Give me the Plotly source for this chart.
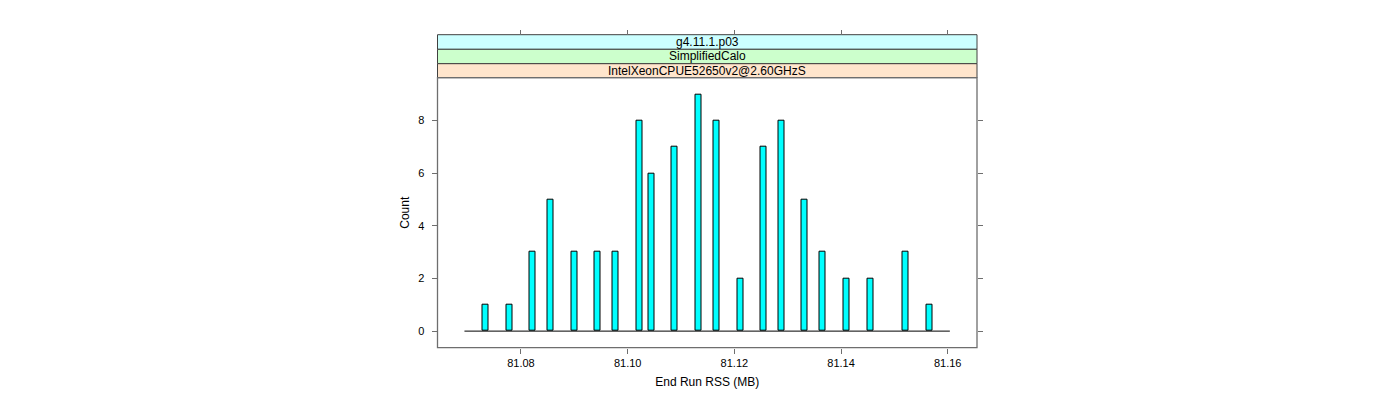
import plotly.graph_objects as go

# ---- data ----
rss_values = [81.0733, 81.0778, 81.0822, 81.0855, 81.0900, 81.0944, 81.0977,
              81.1022, 81.1044, 81.1088, 81.1133, 81.1166, 81.1211, 81.1255,
              81.1288, 81.1332, 81.1366, 81.1410, 81.1455, 81.1521, 81.1566]
counts = [1, 1, 3, 5, 3, 3, 3, 8, 6, 7, 9, 8, 2, 7, 8, 5, 3, 2, 2, 3, 1]
bin_width = 0.00112
hist_extent = [81.0694, 81.1604]          # first / last histogram break
x_ticks = [81.08, 81.10, 81.12, 81.14, 81.16]
x_tick_labels = ["81.08", "81.10", "81.12", "81.14", "81.16"]
y_ticks = [0, 2, 4, 6, 8]
y_tick_labels = ["0", "2", "4", "6", "8"]
strip_labels = ["g4.11.1.p03", "SimplifiedCalo", "IntelXeonCPUE52650v2@2.60GHzS"]
strip_colors = ["#CCFFFF", "#CCFFCC", "#FFE5CC"]
x_range = [81.06435, 81.16549]
y_range = [-0.63, 9.63]

W, H = 1400, 400
OFF = 8  # page body margin offset
FONT = "Liberation Sans, Arial, Helvetica, sans-serif"
frame_col = "#6e6e6e"

# panel geometry (pixels in the screenshot)
px_left, px_right = 437.5 - OFF, 977.0 - OFF
px_panel_top, px_panel_bottom = 77.7 - OFF, 347.7 - OFF
strip_edges_px = [p - OFF for p in (34.7, 49.3, 63.7, 77.7)]

def fx(p):
    return p / W

def fy(p):
    return 1 - p / H

fig = go.Figure()

fig.add_trace(go.Scatter(
    x=hist_extent, y=[0, 0], mode="lines",
    line=dict(color="black", width=1), hoverinfo="skip", showlegend=False))

fig.add_trace(go.Bar(
    x=rss_values, y=counts, width=bin_width,
    marker=dict(color="#00FFFF", line=dict(color="black", width=1)),
    showlegend=False))

# invisible trace to hold the top tick axis
fig.add_trace(go.Scatter(x=hist_extent, y=[0, 0], xaxis="x2", mode="lines",
                         line=dict(width=0), opacity=0, hoverinfo="skip",
                         showlegend=False))

shapes = []
for i, (lab, col) in enumerate(zip(strip_labels, strip_colors)):
    y0 = fy(strip_edges_px[i + 1])
    y1 = fy(strip_edges_px[i])
    shapes.append(dict(type="rect", xref="paper", yref="paper",
                       x0=fx(px_left), x1=fx(px_right), y0=y0, y1=y1,
                       fillcolor=col, line=dict(color="#404040", width=1),
                       layer="below"))
annotations = []
for i, lab in enumerate(strip_labels):
    yc = fy((strip_edges_px[i] + strip_edges_px[i + 1]) / 2)
    annotations.append(dict(text=lab, xref="paper", yref="paper",
                            x=(fx(px_left) + fx(px_right)) / 2, y=yc,
                            xanchor="center", yanchor="middle", showarrow=False,
                            font=dict(family=FONT, size=12, color="black")))
shapes.append(dict(type="rect", xref="paper", yref="paper",
                   x0=fx(px_left), x1=fx(px_right),
                   y0=fy(px_panel_bottom), y1=fy(px_panel_top),
                   line=dict(color=frame_col, width=1.3), layer="above"))

axis_common = dict(
    showgrid=False, zeroline=False, ticks="outside", ticklen=5,
    tickwidth=1, tickcolor=frame_col,
    tickfont=dict(family=FONT, size=11, color="black"),
)

fig.update_layout(
    width=W, height=H,
    margin=dict(l=0, r=0, t=0, b=0),
    paper_bgcolor="white", plot_bgcolor="white",
    font=dict(family=FONT, color="black"),
    bargap=0,
    xaxis=dict(domain=[fx(px_left), fx(px_right)], range=x_range,
               tickvals=x_ticks, ticktext=x_tick_labels,
               title=dict(text="End Run RSS (MB)",
                          font=dict(family=FONT, size=12, color="black"),
                          standoff=9),
               showline=False, **axis_common),
    xaxis2=dict(domain=[fx(px_left), fx(px_right)], range=x_range,
                overlaying="x", anchor="free", position=fy(strip_edges_px[0]),
                side="top", tickvals=x_ticks, showticklabels=False,
                showline=False, **axis_common),
    yaxis=dict(domain=[fy(px_panel_bottom), fy(px_panel_top)], range=y_range,
               tickvals=y_ticks, ticktext=y_tick_labels, mirror="ticks",
               showline=False, ticklabelstandoff=5,
               title=dict(text="Count",
                          font=dict(family=FONT, size=12, color="black"),
                          standoff=5),
               **axis_common),
    shapes=shapes,
    annotations=annotations,
)

fig.write_html("out.html")
